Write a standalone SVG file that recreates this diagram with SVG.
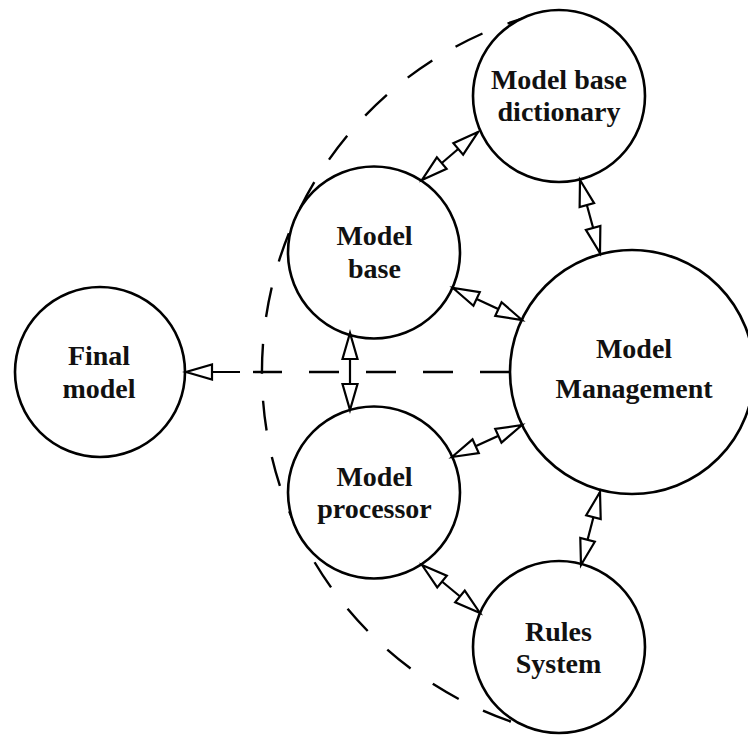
<svg xmlns="http://www.w3.org/2000/svg" width="748" height="735" viewBox="0 0 748 735">
  <style>
    .node circle { fill: #ffffff; stroke: #000000; stroke-width: 2.6; }
    .node text { font-family: "Liberation Serif", "Times New Roman", serif; font-weight: bold; font-size: 28px; fill: #111111; text-anchor: middle; }
    .link { fill: none; stroke: #000000; stroke-width: 2.2; marker-start: url(#head); marker-end: url(#head); }
    .dash { fill: none; stroke: #000000; stroke-width: 2.4; stroke-dasharray: 30 27; }
  </style>
  <defs>
    <marker id="head" markerUnits="userSpaceOnUse" markerWidth="30" markerHeight="20" viewBox="-2 -2 30 20" refX="26" refY="7.5" orient="auto-start-reverse" overflow="visible">
      <path d="M 26 7.5 L 0 0 L 0 15 Z" fill="#ffffff" stroke="#000000" stroke-width="2.2" stroke-linejoin="miter"/>
    </marker>
  </defs>
  <rect width="748" height="735" fill="#ffffff"/>

  <!-- dashed boundary around the model subsystem -->
  <g id="boundary">
    <path class="dash" d="M 536.2 14.6 A 370 370 0 0 0 536.2 729.4"/>
  </g>

  <!-- nodes -->
  <g id="final-model" class="node">
    <circle cx="100" cy="372" r="85"/>
    <text x="99" y="365">Final</text>
    <text x="99" y="398">model</text>
  </g>
  <g id="model-base" class="node">
    <circle cx="374" cy="252.5" r="86"/>
    <text x="374.5" y="245">Model</text>
    <text x="374.5" y="278">base</text>
  </g>
  <g id="model-base-dictionary" class="node">
    <circle cx="559" cy="96" r="86"/>
    <text x="559" y="89">Model base</text>
    <text x="559" y="121">dictionary</text>
  </g>
  <g id="model-management" class="node">
    <circle cx="632" cy="372" r="122"/>
    <text x="634" y="358">Model</text>
    <text x="634" y="398">Management</text>
  </g>
  <g id="model-processor" class="node">
    <circle cx="374" cy="492.5" r="86"/>
    <text x="374.5" y="486">Model</text>
    <text x="374.5" y="518">processor</text>
  </g>
  <g id="rules-system" class="node">
    <circle cx="559" cy="647" r="86"/>
    <text x="558.5" y="641">Rules</text>
    <text x="558.5" y="673">System</text>
  </g>

  <!-- connectors -->
  <g id="connectors">
    <path class="link" d="M 422 180 L 478 132"/>
    <path class="link" d="M 453 288 L 522 320"/>
    <path class="link" d="M 350 333 L 350 410"/>
    <path class="link" d="M 452 457 L 522 425"/>
    <path class="link" d="M 422 565 L 480 613"/>
    <path class="link" d="M 580 180 L 600 253"/>
    <path class="link" d="M 600 492 L 581 565"/>
    <!-- management to final model: dashed run ending in a single open head -->
    <path class="dash" d="M 510 372 L 253 372"/>
    <path d="M 240 372 L 186 372" fill="none" stroke="#000000" stroke-width="2.2" marker-end="url(#head)"/>
  </g>
</svg>
